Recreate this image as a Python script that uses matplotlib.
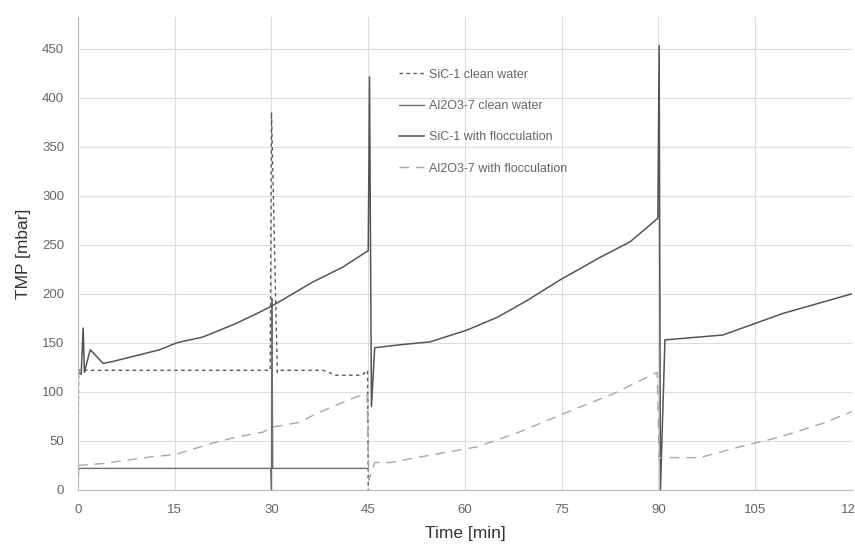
import matplotlib.pyplot as plt

plt.rcParams['font.family'] = ['Liberation Sans', 'DejaVu Sans']

# --------------------------------
# TMP DATA (time in min, TMP in mbar)
# --------------------------------

sic_clean_t = [0, 0.1, 10, 20, 29.8, 30.0, 30.9, 31.2, 38, 40, 44, 44.9, 45.0]
sic_clean_v = [0, 122, 122, 122, 122, 385, 120, 122, 122, 117, 117, 122, 0]

alo_clean_t = [0, 0.1, 10, 20, 29.9, 30.0, 30.05, 30.2, 40, 45]
alo_clean_v = [0, 22, 22, 22, 22, 0, 195, 22, 22, 22]

sic_floc_t = [0, 0.5, 0.8, 1.0, 1.9, 3.9, 5.4, 12.7, 15.3, 19.4, 24.6, 28.7, 30.2,
              36.4, 41.0, 45.0, 45.2, 45.5, 46.0, 49.9, 54.6, 60.3, 65.0, 69.6,
              74.7, 80.9, 85.6, 89.9, 90.1, 90.3, 91.0, 100.0, 109.3, 120.0]
sic_floc_v = [120, 118, 165, 120, 143, 129, 131, 143, 150, 156, 170, 183, 188,
              212, 227, 244, 421, 85, 145, 148, 151, 163, 176, 193,
              214, 237, 253, 277, 453, 0, 153, 158, 180, 200]

alo_floc_t = [0, 3.9, 11.6, 15, 21, 24.6, 28.7, 30, 34.4, 37, 40.6, 43.2, 44.8,
              45.1, 46.0, 48.4, 55, 61.9, 68, 74.3, 76.8, 83, 89.8,
              90.1, 92.3, 96.4, 102.6, 108.8, 115.5, 120]
alo_floc_v = [25, 27, 34, 36, 48, 54, 59, 64, 69, 78, 88, 95, 98,
              10, 28, 28, 36, 44, 58, 75, 82, 98, 120,
              33, 33, 33, 44, 54, 68, 80]

labels = ["SiC-1 clean water", "Al2O3-7 clean water",
          "SiC-1 with flocculation", "Al2O3-7 with flocculation"]

# --------------------------------
# LINE CHART
# --------------------------------

fig = plt.figure(figsize=(8.55, 5.46), dpi=100)
ax = fig.add_axes([0.0912, 0.1026, 0.9053, 0.866])

ax.plot(sic_clean_t, sic_clean_v, color="#5a5a5a", lw=1.0, ls=(0, (2.5, 2.5)), label=labels[0])
ax.plot(alo_clean_t, alo_clean_v, color="#6e6e6e", lw=1.0, label=labels[1])
ax.plot(sic_floc_t, sic_floc_v, color="#555555", lw=1.1, label=labels[2])
ax.plot(alo_floc_t, alo_floc_v, color="#a8a8a8", lw=1.0, ls=(0, (7, 5)), label=labels[3])

ax.set_xlim(0, 120)
ax.set_ylim(0, 482)
ax.set_xticks(range(0, 121, 15))
ax.set_yticks(range(0, 451, 50))
ax.grid(True, color="#dddddd", lw=0.8)
ax.set_axisbelow(True)

for side in ["top", "right"]:
    ax.spines[side].set_visible(False)
for side in ["left", "bottom"]:
    ax.spines[side].set_color("#bbbbbb")

ax.tick_params(length=0, labelsize=9.5, labelcolor="#666666", pad=10)
ax.set_xlabel("Time [min]", fontsize=12.5, color="#333333", labelpad=7)
ax.set_ylabel("TMP [mbar]", fontsize=12.5, color="#333333", labelpad=8)

leg = ax.legend(loc="upper left", bbox_to_anchor=(0.40, 0.915), frameon=False,
                fontsize=9, labelspacing=1.55, handlelength=2.0, handletextpad=0.4)
for t in leg.get_texts():
    t.set_color("#666666")

fig.savefig("out.png")
